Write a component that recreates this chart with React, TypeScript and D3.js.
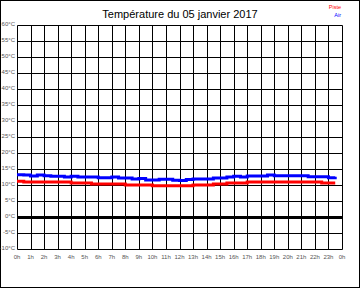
import React from "react";
import * as d3 from "d3";

const title = "Température du 05 janvier 2017";
const seriesNames = ["Piste", "Air"];
const seriesColors = ["#ff0000", "#0000ff"];

const hours = d3.range(0, 24, 0.5);

const piste = [
  11.2, 10.9, 10.9, 10.9, 10.9, 10.9, 10.9, 10.9,
  10.6, 10.6, 10.6,
  10.3, 10.3, 10.3, 10.3, 10.3,
  10.0, 10.0, 10.0, 10.0,
  9.8, 9.8, 9.8, 9.8, 9.8, 9.8,
  10.0, 10.0, 10.0,
  10.3, 10.3,
  10.6, 10.6, 10.6,
  10.9, 10.9, 10.9, 10.9, 10.9, 10.9, 10.9, 10.9, 10.9, 10.9, 10.9,
  10.6, 10.6, 10.6,
];

const air = [
  13.2, 13.1, 12.8, 13.1, 12.9, 12.7, 12.7, 12.5,
  12.7, 12.5, 12.5, 12.5, 12.3, 12.3, 12.5, 12.2,
  12.2, 11.9, 12.0, 11.6, 11.6, 11.8, 11.8, 11.5,
  11.4, 11.7, 11.9, 11.9, 11.9, 12.2, 12.2, 12.5,
  12.7, 12.5, 12.8, 12.8, 12.8, 13.1, 12.9, 12.9,
  12.9, 12.9, 12.9, 12.6, 12.6, 12.6, 12.3, 12.6,
];

const yTicks = d3.range(-10, 61, 5);
const xTicks = d3.range(0, 25, 1);

export default function App() {
  const W = 360, H = 288;
  const x = d3.scaleLinear().domain([0, 24]).range([17, 342]);
  const y = d3.scaleLinear().domain([-10, 60]).range([249, 25]);
  const line = d3
    .line<number>()
    .x((_, i) => x(hours[i]))
    .y((d) => y(d))
    .curve(d3.curveStepAfter);
  const font = "'Liberation Sans', Arial, sans-serif";
  const crisp = (v: number) => Math.round(v) + 0.5;
  return (
    <svg
      width={W}
      height={H}
      style={{ position: "absolute", left: 0, top: 0, background: "#fff" }}
      fontFamily={font}
    >
      <rect x={0.5} y={0.5} width={W - 1} height={H - 1} fill="#fff" stroke="#000" />
      <text x={180} y={18} textAnchor="middle" fontSize={11} fill="#000">
        {title}
      </text>
      <text x={341} y={9} textAnchor="end" fontSize={5.5} fill={seriesColors[0]}>
        {seriesNames[0]}
      </text>
      <text x={341} y={17} textAnchor="end" fontSize={5.5} fill={seriesColors[1]}>
        {seriesNames[1]}
      </text>
      {xTicks.map((h) => (
        <line
          key={"vx" + h}
          x1={crisp(x(h))}
          x2={crisp(x(h))}
          y1={crisp(y(60))}
          y2={crisp(y(-10))}
          stroke="#000"
          strokeWidth={1}
        />
      ))}
      {yTicks.map((t) => (
        <line
          key={"hy" + t}
          x1={crisp(x(0))}
          x2={crisp(x(24))}
          y1={crisp(y(t))}
          y2={crisp(y(t))}
          stroke="#000"
          strokeWidth={1}
        />
      ))}
      <line
        x1={x(0)}
        x2={x(24) + 1}
        y1={crisp(y(0))}
        y2={crisp(y(0))}
        stroke="#000"
        strokeWidth={3}
      />
      {yTicks.map((t) => (
        <text
          key={"ly" + t}
          x={15}
          y={y(t) + 1}
          textAnchor="end"
          fontSize={6}
          fill="#555"
        >
          {t + "°C"}
        </text>
      ))}
      {xTicks.map((h) => (
        <text
          key={"lx" + h}
          x={x(h)}
          y={259}
          textAnchor="middle"
          fontSize={6}
          fill="#555"
        >
          {(h % 24) + "h"}
        </text>
      ))}
      <path d={line(piste) || ""} fill="none" stroke={seriesColors[0]} strokeWidth={3} />
      <path d={line(air) || ""} fill="none" stroke={seriesColors[1]} strokeWidth={3} />
    </svg>
  );
}
